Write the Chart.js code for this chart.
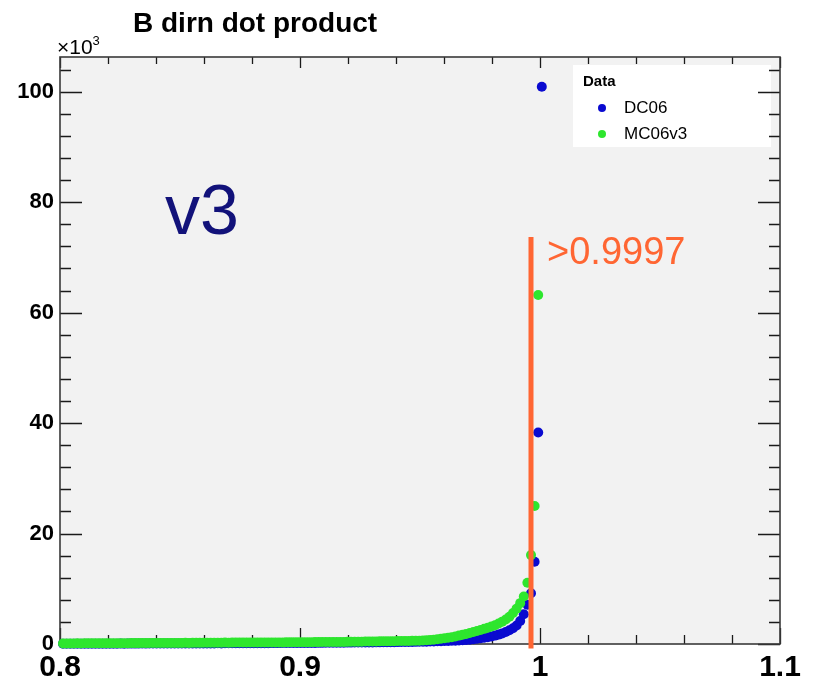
<!DOCTYPE html>
<html>
<head>
<meta charset="utf-8">
<script src="https://cdn.jsdelivr.net/npm/chart.js@4"></script>
<style>
  html, body { margin: 0; padding: 0; background: #ffffff; }
  canvas { display: block; }
</style>
</head>
<body>
<canvas id="c" width="814" height="682"></canvas>
<script>
// ---- Data (values in units of 10^3 entries) ----
const binStart = 0.80125;   // first bin centre
const binWidth = 0.0015;    // histogram bin width

const dc06 = [
  0.04,0.05,0.04,0.05,0.05,0.04,0.05,0.05,0.06,0.05,
  0.05,0.06,0.05,0.06,0.06,0.06,0.07,0.06,0.07,0.07,
  0.07,0.07,0.08,0.07,0.08,0.08,0.08,0.08,0.09,0.08,
  0.09,0.09,0.09,0.10,0.09,0.10,0.10,0.10,0.11,0.10,
  0.11,0.11,0.11,0.12,0.11,0.12,0.12,0.12,0.13,0.13,
  0.13,0.13,0.14,0.14,0.14,0.15,0.15,0.15,0.16,0.16,
  0.16,0.17,0.17,0.17,0.18,0.18,0.19,0.19,0.19,0.20,
  0.20,0.21,0.21,0.22,0.22,0.23,0.23,0.24,0.24,0.25,
  0.25,0.26,0.26,0.27,0.28,0.28,0.29,0.30,0.30,0.31,
  0.32,0.33,0.33,0.34,0.35,0.36,0.37,0.38,0.39,0.40,
  0.41,0.43,0.45,0.47,0.49,0.51,0.53,0.55,0.58,0.61,
  0.64,0.68,0.73,0.79,0.86,0.94,1.03,1.13,1.24,1.36,
  1.52,1.70,1.92,2.18,2.48,2.85,3.35,4.15,5.40,7.10,
  9.2,14.9,38.3,100.9
];

const mc06v3 = [
  0.10,0.11,0.10,0.11,0.12,0.11,0.12,0.12,0.13,0.12,
  0.13,0.13,0.14,0.13,0.14,0.15,0.14,0.15,0.15,0.16,
  0.16,0.16,0.17,0.16,0.17,0.18,0.17,0.18,0.18,0.19,
  0.19,0.19,0.20,0.20,0.21,0.20,0.21,0.22,0.21,0.22,
  0.23,0.22,0.23,0.24,0.24,0.25,0.24,0.25,0.26,0.26,
  0.26,0.27,0.27,0.27,0.28,0.28,0.28,0.29,0.29,0.29,
  0.29,0.29,0.30,0.30,0.31,0.31,0.32,0.32,0.33,0.33,
  0.34,0.34,0.35,0.35,0.36,0.36,0.37,0.38,0.38,0.39,
  0.40,0.41,0.42,0.43,0.44,0.45,0.46,0.47,0.48,0.49,
  0.50,0.51,0.52,0.53,0.54,0.55,0.56,0.57,0.59,0.60,
  0.64,0.68,0.73,0.79,0.86,0.94,1.03,1.13,1.24,1.36,
  1.52,1.67,1.83,2.00,2.17,2.35,2.54,2.74,2.95,3.17,
  3.40,3.70,4.05,4.45,4.95,5.60,6.40,7.40,8.60,11.1,
  16.1,25.0,63.2,null
];

const seriesNames = ['DC06', 'MC06v3'];
const xTickValues = [0.8, 0.9, 1.0, 1.1];
const xTickLabels = ['0.8', '0.9', '1', '1.1'];
const yTickValues = [0, 20, 40, 60, 80, 100];
const yTickLabels = ['0', '20', '40', '60', '80', '100'];
const cutValue = 0.99625;   // drawn cut line position
const cutTop = 73.7;        // cut line top (x10^3)
const cutLabel = '>0.9997';
const titleText = 'B dirn dot product';
const versionText = 'v3';

// ---- Style ----
const FONT = '"Liberation Sans", Arial, Helvetica, sans-serif';
const BLUE = '#0a0ad0';
const GREEN = '#2ee62e';
const ORANGE = '#ff6633';

function toPoints(vals) {
  return vals.map((v, i) => ({ x: binStart + i * binWidth, y: v }));
}

const decor = {
  id: 'decor',
  beforeDraw(chart) {
    const { ctx, chartArea: a } = chart;
    ctx.save();
    ctx.fillStyle = '#ffffff';
    ctx.fillRect(0, 0, chart.width, chart.height);
    ctx.fillStyle = '#f2f2f2';
    ctx.fillRect(a.left, a.top, a.right - a.left, a.bottom - a.top);
    ctx.restore();
  },
  beforeDatasetsDraw(chart) {
    const { ctx, chartArea: a, scales: { x, y } } = chart;
    ctx.save();
    // legend box
    ctx.fillStyle = '#ffffff';
    ctx.fillRect(573, 65, 198, 82);
    // ticks (inside, all sides)
    ctx.strokeStyle = '#1a1a1a';
    ctx.lineWidth = 1.3;
    ctx.beginPath();
    for (let k = 0; k <= 15; k++) {
      const px = Math.round(x.getPixelForValue(0.8 + k * 0.02)) + 0.5;
      const major = k % 5 === 0;
      ctx.moveTo(px, a.bottom); ctx.lineTo(px, a.bottom - (major ? 16 : 9));
      ctx.moveTo(px, a.top); ctx.lineTo(px, a.top + (major ? 11 : 7));
    }
    for (let k = 0; k <= 26; k++) {
      const py = Math.round(y.getPixelForValue(k * 4)) + 0.5;
      const major = k % 5 === 0;
      const l = major ? 22 : 11;
      ctx.moveTo(a.left, py); ctx.lineTo(a.left + l, py);
      ctx.moveTo(a.right, py); ctx.lineTo(a.right - l, py);
    }
    ctx.stroke();
    // frame
    ctx.strokeStyle = '#3a3a3a';
    ctx.lineWidth = 1.6;
    ctx.strokeRect(a.left, a.top, a.right - a.left, a.bottom - a.top);
    ctx.restore();
  },
  afterDatasetsDraw(chart) {
    const { ctx, scales: { x, y } } = chart;
    ctx.save();
    // cut line
    const cx = x.getPixelForValue(cutValue);
    ctx.strokeStyle = ORANGE;
    ctx.lineWidth = 5;
    ctx.beginPath();
    ctx.moveTo(cx, y.getPixelForValue(cutTop));
    ctx.lineTo(cx, y.getPixelForValue(-0.8));
    ctx.stroke();

    ctx.textBaseline = 'alphabetic';
    ctx.textAlign = 'left';
    // cut label
    ctx.fillStyle = ORANGE;
    ctx.font = '38px ' + FONT;
    ctx.fillText(cutLabel, 547, 264);
    // version label
    ctx.fillStyle = '#12127a';
    ctx.font = '70px ' + FONT;
    ctx.fillText(versionText, 165, 234);
    // title
    ctx.fillStyle = '#000000';
    ctx.font = 'bold 28px ' + FONT;
    ctx.fillText(titleText, 133, 32);
    // exponent
    ctx.font = '21px ' + FONT;
    ctx.fillText('\u00d710', 57, 54);
    const w = ctx.measureText('\u00d710').width;
    ctx.font = '13px ' + FONT;
    ctx.fillText('3', 57 + w, 45);

    // legend content
    ctx.font = 'bold 15px ' + FONT;
    ctx.fillText('Data', 583, 86);
    ctx.font = '17px ' + FONT;
    ctx.textBaseline = 'middle';
    ctx.fillText(seriesNames[0], 624, 108);
    ctx.fillText(seriesNames[1], 624, 134);
    ctx.fillStyle = BLUE;
    ctx.beginPath(); ctx.arc(602, 108, 4, 0, Math.PI * 2); ctx.fill();
    ctx.fillStyle = GREEN;
    ctx.beginPath(); ctx.arc(602, 134, 4, 0, Math.PI * 2); ctx.fill();
    ctx.restore();
  }
};

new Chart(document.getElementById('c'), {
  type: 'scatter',
  data: {
    datasets: [
      { label: seriesNames[1], data: toPoints(mc06v3), backgroundColor: GREEN,
        pointRadius: 5, pointBorderWidth: 0, borderWidth: 0, order: 0, clip: false },
      { label: seriesNames[0], data: toPoints(dc06), backgroundColor: BLUE,
        pointRadius: 5, pointBorderWidth: 0, borderWidth: 0, order: 1, clip: false }
    ]
  },
  options: {
    responsive: false,
    animation: false,
    devicePixelRatio: 1,
    layout: { padding: { top: 57, right: 34, left: 0, bottom: 0 } },
    plugins: { legend: { display: false }, tooltip: { enabled: false }, title: { display: false } },
    scales: {
      x: {
        type: 'linear', min: 0.8, max: 1.1,
        afterBuildTicks: s => { s.ticks = xTickValues.map(v => ({ value: v })); },
        afterFit: s => { s.height = 38; },
        grid: { display: false, drawTicks: false },
        border: { display: false },
        ticks: {
          callback: (v, i) => xTickLabels[i],
          font: { family: FONT, size: 30, weight: 'bold' },
          color: '#000000', padding: 6, maxRotation: 0, autoSkip: false
        }
      },
      y: {
        type: 'linear', min: 0, max: 106.3,
        afterBuildTicks: s => { s.ticks = yTickValues.map(v => ({ value: v })); },
        afterFit: s => { s.width = 60; },
        grid: { display: false, drawTicks: false },
        border: { display: false },
        ticks: {
          callback: (v, i) => yTickLabels[i],
          font: { family: FONT, size: 22, weight: 'bold' },
          color: '#000000', padding: 6, autoSkip: false
        }
      }
    }
  },
  plugins: [decor]
});
</script>
</body>
</html>
